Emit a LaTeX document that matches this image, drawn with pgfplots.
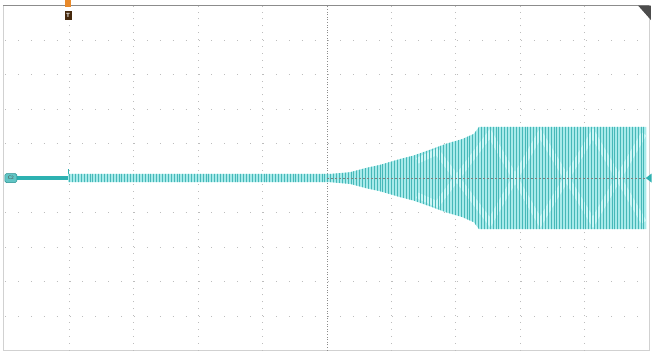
\documentclass[border=0pt]{standalone}
\usepackage{pgfplots}
\pgfplotsset{compat=1.18}
\usetikzlibrary{patterns.meta}
\definecolor{tealdark}{HTML}{2DB1B1}
\definecolor{tealline}{HTML}{46B8B8}
\definecolor{tealfill}{HTML}{A8EAEA}
\definecolor{teallight}{HTML}{CDF6F6}
\definecolor{gridc}{HTML}{BDBDBD}
\definecolor{trigc}{HTML}{E8892A}
\begin{document}
\begin{tikzpicture}
\begin{axis}[scale only axis, width=652pt, height=353pt,
  xmin=-0.078, xmax=10.047, ymin=-5.07, ymax=5.16,
  hide axis, clip=false]
\path (rel axis cs:0,0) rectangle (rel axis cs:1,1);
% graticule
\draw[gridc!70, line width=0.6pt] (axis cs:-0.03,-5) rectangle (axis cs:10,5);
\draw[black!45, line width=0.8pt] (axis cs:-0.03,5) -- (axis cs:10,5);
\pgfplotsinvokeforeach{1,2,3,4,6,7,8,9}{
  \draw[gridc, line width=0.9pt, dash pattern=on 0.9pt off 6pt] (axis cs:#1,-5) -- (axis cs:#1,5);}
\pgfplotsinvokeforeach{-4,-3,-2,-1,1,2,3,4}{
  \draw[gridc, line width=0.9pt, dash pattern=on 0.9pt off 12pt] (axis cs:0,#1) -- (axis cs:10,#1);}
\draw[black!45, line width=1pt, dash pattern=on 1pt off 1.6pt] (axis cs:5,-5) -- (axis cs:5,5);
% trace: quiet part
\addplot[tealdark, line width=4.5pt] coordinates {(0.1,0) (5.3,0)};
\addplot[tealdark, line width=1pt] coordinates {(0.98,0) (0.98,0.26)};
% envelope of oscillation
\addplot[draw=none, fill=tealfill] table {
x y
0.98 0.12
5.05 0.12
5.36 0.17
5.62 0.30
5.82 0.38
6.13 0.55
6.34 0.65
6.60 0.82
6.86 1.00
7.10 1.13
7.28 1.28
7.36 1.48
9.96 1.48
9.96 -1.48
7.36 -1.48
7.28 -1.28
7.10 -1.13
6.86 -1.00
6.60 -0.82
6.34 -0.65
6.13 -0.55
5.82 -0.38
5.62 -0.30
5.36 -0.17
5.05 -0.12
0.98 -0.12
0.98 0.12
};
% beating pattern (light bands)
\addplot[teallight, line width=6pt] coordinates {(6.40,0.50) (6.71,0.76) (7.53,-1.28) (8.31,1.28) (9.13,-1.28) (9.92,1.28)};
\addplot[teallight, line width=6pt] coordinates {(6.40,-0.50) (6.71,-0.76) (7.53,1.28) (8.31,-1.28) (9.13,1.28) (9.92,-1.28)};
% oscillation strokes
\addplot[draw=none, pattern={Lines[angle=90, distance=2.9pt, line width=0.75pt]}, pattern color=tealline] table {
x y
0.98 0.12
5.05 0.12
5.36 0.17
5.62 0.30
5.82 0.38
6.13 0.55
6.34 0.65
6.60 0.82
6.86 1.00
7.10 1.13
7.28 1.28
7.36 1.48
9.96 1.48
9.96 -1.48
7.36 -1.48
7.28 -1.28
7.10 -1.13
6.86 -1.00
6.60 -0.82
6.34 -0.65
6.13 -0.55
5.82 -0.38
5.62 -0.30
5.36 -0.17
5.05 -0.12
0.98 -0.12
0.98 0.12
};
% centre line
\draw[black!50, line width=0.8pt, dash pattern=on 2pt off 2pt] (axis cs:5,0) -- (axis cs:10,0);
% markers
\node[draw=tealdark!80!black, fill=tealdark!75, rounded corners=1.5pt, inner sep=0.6pt,
  minimum width=12pt, minimum height=9pt, font=\fontsize{5}{5}\selectfont\sffamily, text=black!70]
  at (axis cs:0.09,0) {C2};
\fill[tealdark] (axis cs:10.04,0.13) -- (axis cs:9.95,0) -- (axis cs:10.04,-0.13) -- cycle;
\fill[trigc] (axis cs:0.93,5.16) rectangle (axis cs:1.03,4.95);
\node[fill=black!70!trigc, text=white, font=\fontsize{6}{6}\selectfont\sffamily\bfseries,
  inner sep=0pt, minimum width=7pt, minimum height=9pt] at (axis cs:0.98,4.72) {T};
\fill[black!70] (axis cs:9.83,5.0) -- (axis cs:10.03,5.0) -- (axis cs:10.03,4.58) -- cycle;
\end{axis}
\end{tikzpicture}
\end{document}
